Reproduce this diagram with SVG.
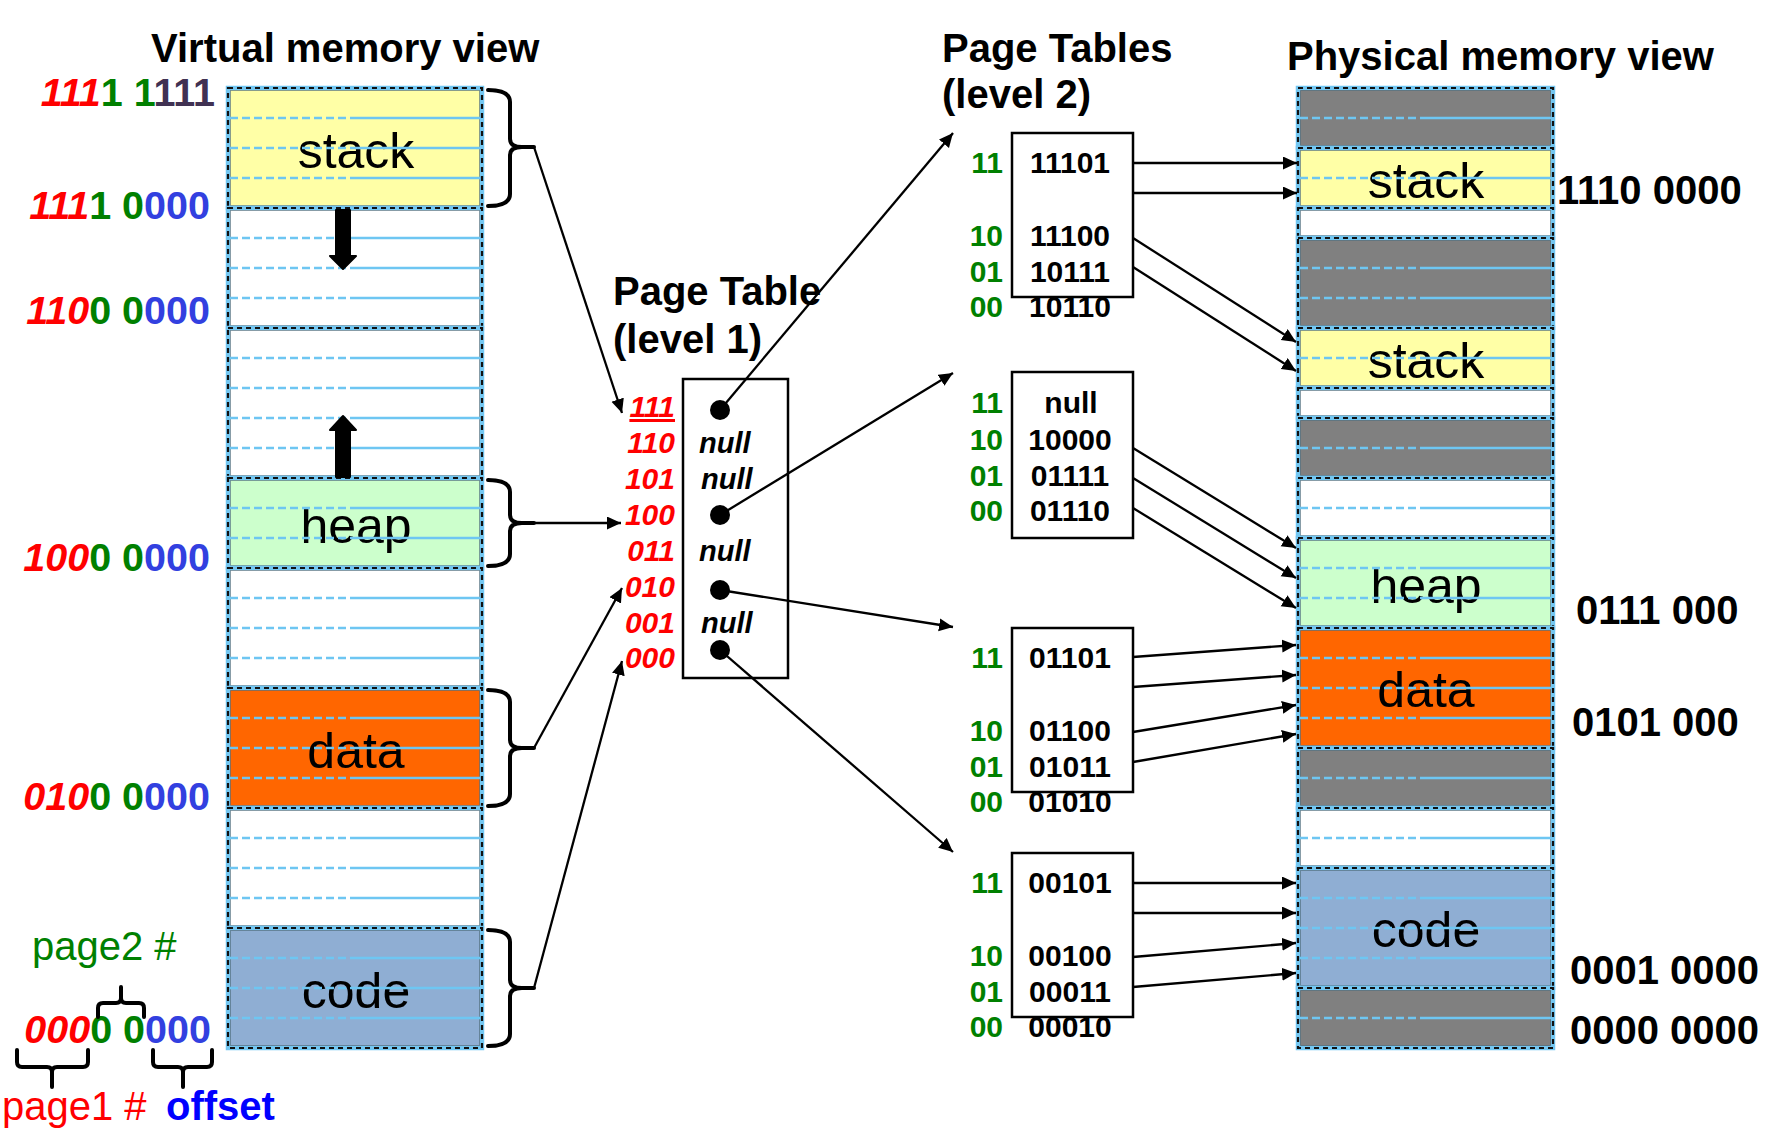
<svg xmlns="http://www.w3.org/2000/svg" width="1778" height="1140" viewBox="0 0 1778 1140">
<defs>
<marker id="ah" markerUnits="userSpaceOnUse" markerWidth="15" markerHeight="14" refX="14" refY="6.5" orient="auto"><path d="M0,0 L14,6.5 L0,13 Z" fill="#000"/></marker>
<style>
text{font-family:"Liberation Sans",Arial,sans-serif}
.title{font-size:40px;font-weight:bold;fill:#000}
.seglbl{font-size:50px;fill:#000;text-anchor:middle}
.addr{font-size:39.5px;font-weight:bold}
.paddr{font-size:40px;font-weight:bold;fill:#000}
.r{fill:#ff0000;font-style:italic}
.g{fill:#008000}
.b{fill:#3240e0}
.d{fill:#403152}
.l1{font-size:30px;font-weight:bold;font-style:italic;fill:#ff0000;text-anchor:end}
.nul{font-size:29px;font-weight:bold;font-style:italic;fill:#000}
.l2k{font-size:30px;font-weight:bold;fill:#008000;text-anchor:end}
.l2v{font-size:30px;font-weight:bold;fill:#000;text-anchor:middle}
.band{fill:none;stroke:#73c7f2;stroke-width:4.5}
.dash{fill:none;stroke:#111;stroke-width:2.2;stroke-dasharray:5 4}
.fillb{stroke:#444;stroke-width:1.2}
.row{stroke:#6ec6f2;stroke-width:2.6;stroke-dasharray:8 4 8 4 8 4 8 4 8 4 8 4 8 4 8 4 8 4 8 4 300}
.box{fill:#fff;stroke:#000;stroke-width:2.5}
.conn{fill:none;stroke:#000;stroke-width:2.3;marker-end:url(#ah)}
.brace{fill:none;stroke:#000;stroke-width:4;stroke-linejoin:round;stroke-linecap:round}
</style>
</defs>
<rect width="1778" height="1140" fill="#fff"/>

<g id="titles">
<text class="title" x="151" y="62">Virtual memory view</text>
<text class="title" x="613" y="305">Page Table</text>
<text class="title" x="613" y="353">(level 1)</text>
<text class="title" x="942" y="62">Page Tables</text>
<text class="title" x="942" y="108">(level 2)</text>
<text class="title" x="1287" y="70">Physical memory view</text>
</g>

<g id="virtual-memory">
<g id="v-stack"><rect x="230" y="90" width="250" height="116" fill="#ffffa6" class="fillb"/><text class="seglbl" x="356" y="168">stack</text><path class="row" d="M230,118H480M230,148H480M230,178H480"/><rect class="band" x="228" y="88" width="254" height="120"/><rect class="dash" x="228" y="88" width="254" height="120"/></g>
<g id="v-free1"><rect x="230" y="210" width="250" height="116" fill="#fff" class="fillb"/><path class="row" d="M230,238H480M230,268H480M230,298H480"/><rect class="band" x="228" y="208" width="254" height="120"/><rect class="dash" x="228" y="208" width="254" height="120"/></g>
<g id="v-free2"><rect x="230" y="330" width="250" height="146" fill="#fff" class="fillb"/><path class="row" d="M230,358H480M230,388H480M230,418H480M230,448H480"/><rect class="band" x="228" y="328" width="254" height="150"/><rect class="dash" x="228" y="328" width="254" height="150"/></g>
<g id="v-heap"><rect x="230" y="480" width="250" height="86" fill="#ccffcc" class="fillb"/><text class="seglbl" x="356" y="543">heap</text><path class="row" d="M230,508H480M230,538H480"/><rect class="band" x="228" y="478" width="254" height="90"/><rect class="dash" x="228" y="478" width="254" height="90"/></g>
<g id="v-free3"><rect x="230" y="570" width="250" height="116" fill="#fff" class="fillb"/><path class="row" d="M230,598H480M230,628H480M230,658H480"/><rect class="band" x="228" y="568" width="254" height="120"/><rect class="dash" x="228" y="568" width="254" height="120"/></g>
<g id="v-data"><rect x="230" y="690" width="250" height="116" fill="#ff6600" class="fillb"/><text class="seglbl" x="356" y="768">data</text><path class="row" d="M230,718H480M230,748H480M230,778H480"/><rect class="band" x="228" y="688" width="254" height="120"/><rect class="dash" x="228" y="688" width="254" height="120"/></g>
<g id="v-free4"><rect x="230" y="810" width="250" height="116" fill="#fff" class="fillb"/><path class="row" d="M230,838H480M230,868H480M230,898H480"/><rect class="band" x="228" y="808" width="254" height="120"/><rect class="dash" x="228" y="808" width="254" height="120"/></g>
<g id="v-code"><rect x="230" y="930" width="250" height="116" fill="#8faed3" class="fillb"/><text class="seglbl" x="356" y="1008">code</text><path class="row" d="M230,958H480M230,988H480M230,1018H480"/><rect class="band" x="228" y="928" width="254" height="120"/><rect class="dash" x="228" y="928" width="254" height="120"/></g>
<path id="stack-grow" d="M336,210 L350,210 L350,256 L356,256 L343,269 L330,256 L336,256 Z" fill="#000" stroke="#000" stroke-width="2" stroke-linejoin="round"/>
<path id="heap-grow" d="M336,477 L350,477 L350,430 L356,430 L343,416 L330,430 L336,430 Z" fill="#000" stroke="#000" stroke-width="2" stroke-linejoin="round"/>
</g>

<g id="virtual-addresses" class="addr">
<text x="215" y="106" text-anchor="end"><tspan class="r">111</tspan><tspan class="g">1 1</tspan><tspan class="d">111</tspan></text>
<text x="210" y="219" text-anchor="end"><tspan class="r">111</tspan><tspan class="g">1 0</tspan><tspan class="b">000</tspan></text>
<text x="210" y="324" text-anchor="end"><tspan class="r">110</tspan><tspan class="g">0 0</tspan><tspan class="b">000</tspan></text>
<text x="210" y="571" text-anchor="end"><tspan class="r">100</tspan><tspan class="g">0 0</tspan><tspan class="b">000</tspan></text>
<text x="210" y="810" text-anchor="end"><tspan class="r">010</tspan><tspan class="g">0 0</tspan><tspan class="b">000</tspan></text>
<text x="211" y="1043" text-anchor="end"><tspan class="r">000</tspan><tspan class="g">0 0</tspan><tspan class="b">000</tspan></text>
</g>

<g id="address-legend">
<text x="32" y="960" font-size="40" fill="#008000">page2 #</text>
<text x="2" y="1120" font-size="40" fill="#ff0000">page1 #</text>
<text x="166" y="1120" font-size="40" font-weight="bold" fill="#0000ff">offset</text>
<path class="brace" d="M98,1017 L98,1008 Q98,1003 103,1003 L116,1003 Q121,1003 121,998 L121,987 M121,998 Q121,1003 126,1003 L139,1003 Q144,1003 144,1008 L144,1017"/>
<path class="brace" d="M17,1050 L17,1062 Q17,1067 22,1067 L47,1067 Q52,1067 52,1072 L52,1087 M52,1072 Q52,1067 57,1067 L83,1067 Q88,1067 88,1062 L88,1050"/>
<path class="brace" d="M153,1050 L153,1062 Q153,1067 158,1067 L178,1067 Q183,1067 183,1072 L183,1087 M183,1072 Q183,1067 188,1067 L207,1067 Q212,1067 212,1062 L212,1050"/>
</g>

<g id="braces">
<path class="brace" d="M488,90 Q510,90 510,102 L510,139 Q510,147 522,147 L534,147 M522,147 Q510,147 510,155 L510,194 Q510,206 488,206"/>
<path class="brace" d="M488,480 Q510,480 510,492 L510,515 Q510,523 522,523 L534,523 M522,523 Q510,523 510,531 L510,554 Q510,566 488,566"/>
<path class="brace" d="M488,690 Q510,690 510,702 L510,740 Q510,748 522,748 L534,748 M522,748 Q510,748 510,756 L510,794 Q510,806 488,806"/>
<path class="brace" d="M488,930 Q510,930 510,942 L510,980 Q510,988 522,988 L534,988 M522,988 Q510,988 510,996 L510,1034 Q510,1046 488,1046"/>
</g>

<g id="page-table-l1">
<rect class="box" x="683" y="379" width="105" height="299"/>
<text class="l1" x="675" y="417" text-decoration="underline">111</text>
<text class="l1" x="675" y="453">110</text>
<text class="l1" x="675" y="489">101</text>
<text class="l1" x="675" y="525">100</text>
<text class="l1" x="675" y="561">011</text>
<text class="l1" x="675" y="597">010</text>
<text class="l1" x="675" y="633">001</text>
<text class="l1" x="675" y="668">000</text>
<text class="nul" x="699" y="453">null</text>
<text class="nul" x="701" y="489">null</text>
<text class="nul" x="699" y="561">null</text>
<text class="nul" x="701" y="633">null</text>
<circle cx="720" cy="410" r="10"/>
<circle cx="720" cy="515" r="10"/>
<circle cx="720" cy="590" r="10"/>
<circle cx="720" cy="650" r="10"/>
</g>

<g id="page-table-l2-111">
<rect class="box" x="1012" y="133" width="121" height="164"/>
<text class="l2k" x="1003" y="173">11</text><text class="l2v" x="1070" y="173">11101</text>
<text class="l2k" x="1003" y="246">10</text><text class="l2v" x="1070" y="246">11100</text>
<text class="l2k" x="1003" y="282">01</text><text class="l2v" x="1070" y="282">10111</text>
<text class="l2k" x="1003" y="317">00</text><text class="l2v" x="1070" y="317">10110</text>
</g>
<g id="page-table-l2-100">
<rect class="box" x="1012" y="372" width="121" height="166"/>
<text class="l2k" x="1003" y="413">11</text><text class="l2v" x="1071" y="413">null</text>
<text class="l2k" x="1003" y="450">10</text><text class="l2v" x="1070" y="450">10000</text>
<text class="l2k" x="1003" y="486">01</text><text class="l2v" x="1070" y="486">01111</text>
<text class="l2k" x="1003" y="521">00</text><text class="l2v" x="1070" y="521">01110</text>
</g>
<g id="page-table-l2-010">
<rect class="box" x="1012" y="628" width="121" height="164"/>
<text class="l2k" x="1003" y="668">11</text><text class="l2v" x="1070" y="668">01101</text>
<text class="l2k" x="1003" y="741">10</text><text class="l2v" x="1070" y="741">01100</text>
<text class="l2k" x="1003" y="777">01</text><text class="l2v" x="1070" y="777">01011</text>
<text class="l2k" x="1003" y="812">00</text><text class="l2v" x="1070" y="812">01010</text>
</g>
<g id="page-table-l2-000">
<rect class="box" x="1012" y="853" width="121" height="164"/>
<text class="l2k" x="1003" y="893">11</text><text class="l2v" x="1070" y="893">00101</text>
<text class="l2k" x="1003" y="966">10</text><text class="l2v" x="1070" y="966">00100</text>
<text class="l2k" x="1003" y="1002">01</text><text class="l2v" x="1070" y="1002">00011</text>
<text class="l2k" x="1003" y="1037">00</text><text class="l2v" x="1070" y="1037">00010</text>
</g>

<g id="physical-memory">
<g><rect x="1300" y="90" width="251" height="56" fill="#808080" class="fillb"/><path class="row" d="M1300,118H1551"/><rect class="band" x="1298" y="88" width="255" height="60"/><rect class="dash" x="1298" y="88" width="255" height="60"/></g>
<g id="p-stack1"><rect x="1300" y="150" width="251" height="56" fill="#ffffa6" class="fillb"/><text class="seglbl" x="1426" y="198">stack</text><path class="row" d="M1300,178H1551"/><rect class="band" x="1298" y="148" width="255" height="60"/><rect class="dash" x="1298" y="148" width="255" height="60"/></g>
<g><rect x="1300" y="210" width="251" height="26" fill="#fff" class="fillb"/><rect class="band" x="1298" y="208" width="255" height="30"/><rect class="dash" x="1298" y="208" width="255" height="30"/></g>
<g><rect x="1300" y="240" width="251" height="86" fill="#808080" class="fillb"/><path class="row" d="M1300,268H1551M1300,298H1551"/><rect class="band" x="1298" y="238" width="255" height="90"/><rect class="dash" x="1298" y="238" width="255" height="90"/></g>
<g id="p-stack2"><rect x="1300" y="330" width="251" height="56" fill="#ffffa6" class="fillb"/><text class="seglbl" x="1426" y="378">stack</text><path class="row" d="M1300,358H1551"/><rect class="band" x="1298" y="328" width="255" height="60"/><rect class="dash" x="1298" y="328" width="255" height="60"/></g>
<g><rect x="1300" y="390" width="251" height="26" fill="#fff" class="fillb"/><rect class="band" x="1298" y="388" width="255" height="30"/><rect class="dash" x="1298" y="388" width="255" height="30"/></g>
<g><rect x="1300" y="420" width="251" height="56" fill="#808080" class="fillb"/><path class="row" d="M1300,448H1551"/><rect class="band" x="1298" y="418" width="255" height="60"/><rect class="dash" x="1298" y="418" width="255" height="60"/></g>
<g><rect x="1300" y="480" width="251" height="56" fill="#fff" class="fillb"/><path class="row" d="M1300,508H1551"/><rect class="band" x="1298" y="478" width="255" height="60"/><rect class="dash" x="1298" y="478" width="255" height="60"/></g>
<g id="p-heap"><rect x="1300" y="540" width="251" height="86" fill="#ccffcc" class="fillb"/><text class="seglbl" x="1426" y="603">heap</text><path class="row" d="M1300,568H1551M1300,598H1551"/><rect class="band" x="1298" y="538" width="255" height="90"/><rect class="dash" x="1298" y="538" width="255" height="90"/></g>
<g id="p-data"><rect x="1300" y="630" width="251" height="116" fill="#ff6600" class="fillb"/><text class="seglbl" x="1426" y="707">data</text><path class="row" d="M1300,658H1551M1300,688H1551M1300,718H1551"/><rect class="band" x="1298" y="628" width="255" height="120"/><rect class="dash" x="1298" y="628" width="255" height="120"/></g>
<g><rect x="1300" y="750" width="251" height="56" fill="#808080" class="fillb"/><path class="row" d="M1300,778H1551"/><rect class="band" x="1298" y="748" width="255" height="60"/><rect class="dash" x="1298" y="748" width="255" height="60"/></g>
<g><rect x="1300" y="810" width="251" height="56" fill="#fff" class="fillb"/><path class="row" d="M1300,838H1551"/><rect class="band" x="1298" y="808" width="255" height="60"/><rect class="dash" x="1298" y="808" width="255" height="60"/></g>
<g id="p-code"><rect x="1300" y="870" width="251" height="116" fill="#8faed3" class="fillb"/><text class="seglbl" x="1426" y="947">code</text><path class="row" d="M1300,898H1551M1300,928H1551M1300,958H1551"/><rect class="band" x="1298" y="868" width="255" height="120"/><rect class="dash" x="1298" y="868" width="255" height="120"/></g>
<g><rect x="1300" y="990" width="251" height="56" fill="#808080" class="fillb"/><path class="row" d="M1300,1018H1551"/><rect class="band" x="1298" y="988" width="255" height="60"/><rect class="dash" x="1298" y="988" width="255" height="60"/></g>
</g>

<g id="physical-addresses" class="paddr">
<text x="1557" y="204">1110 0000</text>
<text x="1576" y="624">0111 000</text>
<text x="1572" y="736">0101 000</text>
<text x="1570" y="984">0001 0000</text>
<text x="1570" y="1044">0000 0000</text>
</g>

<g id="connectors">
<path class="conn" d="M534,147 L622,413"/>
<path class="conn" d="M534,523 L621,523"/>
<path class="conn" d="M534,748 L622,588"/>
<path class="conn" d="M534,988 L622,661"/>
<path class="conn" d="M720,410 L953,133"/>
<path class="conn" d="M720,515 L953,373"/>
<path class="conn" d="M720,590 L953,627"/>
<path class="conn" d="M720,650 L953,852"/>
<path class="conn" d="M1133,163 L1297,163"/>
<path class="conn" d="M1133,193 L1297,193"/>
<path class="conn" d="M1133,238 L1296,342"/>
<path class="conn" d="M1133,267 L1296,371"/>
<path class="conn" d="M1133,448 L1296,548"/>
<path class="conn" d="M1133,478 L1296,578"/>
<path class="conn" d="M1133,508 L1296,608"/>
<path class="conn" d="M1133,657 L1296,645"/>
<path class="conn" d="M1133,687 L1296,675"/>
<path class="conn" d="M1133,732 L1296,705"/>
<path class="conn" d="M1133,762 L1296,734"/>
<path class="conn" d="M1133,883 L1296,883"/>
<path class="conn" d="M1133,913 L1296,913"/>
<path class="conn" d="M1133,957 L1296,943"/>
<path class="conn" d="M1133,987 L1296,973"/>
</g>
</svg>
